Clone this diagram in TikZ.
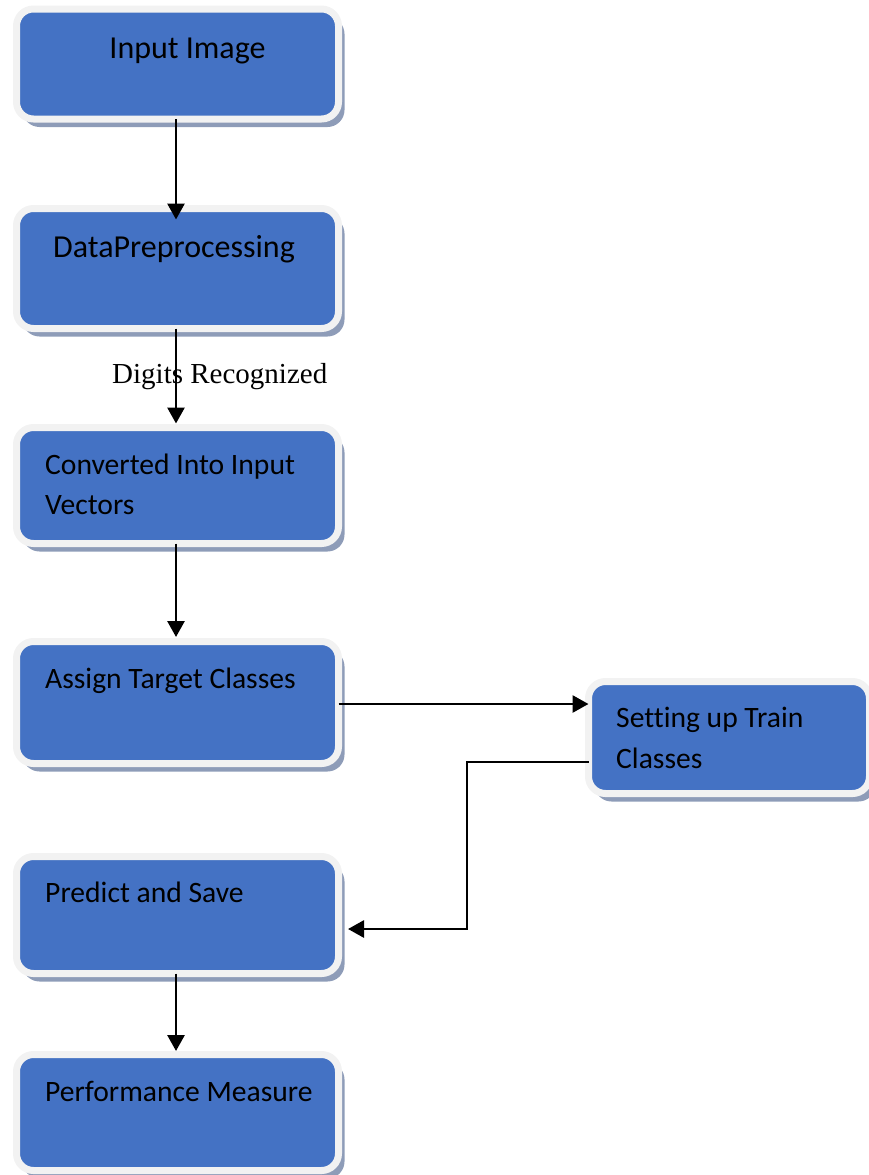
\documentclass[tikz,border=0pt]{standalone}
\usepackage{fontspec}
\setmainfont{Carlito}[RawFeature={-liga;-clig;-calt;-dlig}]
\newfontfamily\tnr{Liberation Serif}
\usetikzlibrary{arrows.meta,shadows}
\definecolor{boxblue}{HTML}{4472C4}
\definecolor{boxrim}{HTML}{F2F2F2}
\definecolor{boxshadow}{HTML}{8E9CB8}
\begin{document}
\begin{tikzpicture}[x=1pt,y=-1pt,
  box/.style={draw=boxrim, line width=7pt, fill=boxblue, rounded corners=17pt,
    inner sep=0pt, outer sep=0pt,
    drop shadow={shadow xshift=6pt, shadow yshift=-8pt, fill=boxshadow, opacity=1}},
  lbl/.style={inner sep=0pt, anchor=base west, text=black},
  big/.style={lbl, font=\fontsize{32}{38}\selectfont},
  mid/.style={lbl, font=\fontsize{29.6}{36}\selectfont},
  arr/.style={line width=2.8pt, -{Triangle[length=16pt,width=17pt]}}]
\useasboundingbox (0,0) rectangle (869,1175);
% boxes
\node[box, minimum width=322pt, minimum height=110pt] (b1) at (177.5,64) {};
\node[box, minimum width=322pt, minimum height=120pt] (b2) at (177.5,268.5) {};
\node[box, minimum width=322pt, minimum height=116pt] (b3) at (177.5,485.5) {};
\node[box, minimum width=322pt, minimum height=122pt] (b4) at (177.5,702.5) {};
\node[box, minimum width=281pt, minimum height=112pt] (b5) at (729,737.5) {};
\node[box, minimum width=322pt, minimum height=117pt] (b6) at (177.5,915) {};
\node[box, minimum width=322pt, minimum height=116pt] (b7) at (177.5,1112.5) {};
% texts
\node[big, anchor=base] (t1) at (187.5,58) {Input Image};
\node[big] (t2) at (53,257) {DataPreprocessing};
\node[mid] (t3a) at (45,474) {Converted Into Input};
\node[mid] (t3b) at (45,514) {Vectors};
\node[mid] (t4) at (45,688) {Assign Target Classes};
\node[mid] (t5a) at (616,727) {Setting up Train};
\node[mid] (t5b) at (616,768) {Classes};
\node[mid] (t6) at (45,902) {Predict and Save};
\node[mid] (t7) at (45,1101) {Performance Measure};
\node[lbl, font=\tnr\fontsize{29}{34}\selectfont] (dr) at (112,383) {Digits Recognized};
% connectors
\draw[arr] ([xshift=-1.5pt]b1.south) -- ([xshift=-1.5pt,yshift=-11pt]b2.north);
\draw[arr] ([xshift=-1.5pt]b2.south) -- ([xshift=-1.5pt,yshift=4pt]b3.north);
\draw[arr] ([xshift=-1.5pt]b3.south) -- ([xshift=-1.5pt,yshift=4.5pt]b4.north);
\draw[arr] ([yshift=-1.5pt]b4.east) -- ([yshift=-1.5pt]b4.east -| b5.west);
\coordinate (c1) at (467,762);
\draw[arr] ([yshift=-24.5pt]b5.west) -- (c1) |- ([xshift=9.5pt,yshift=-14pt]b6.east);
\draw[arr] ([xshift=-1.5pt]b6.south) -- ([xshift=-1.5pt,yshift=3.5pt]b7.north);
\end{tikzpicture}
\end{document}
